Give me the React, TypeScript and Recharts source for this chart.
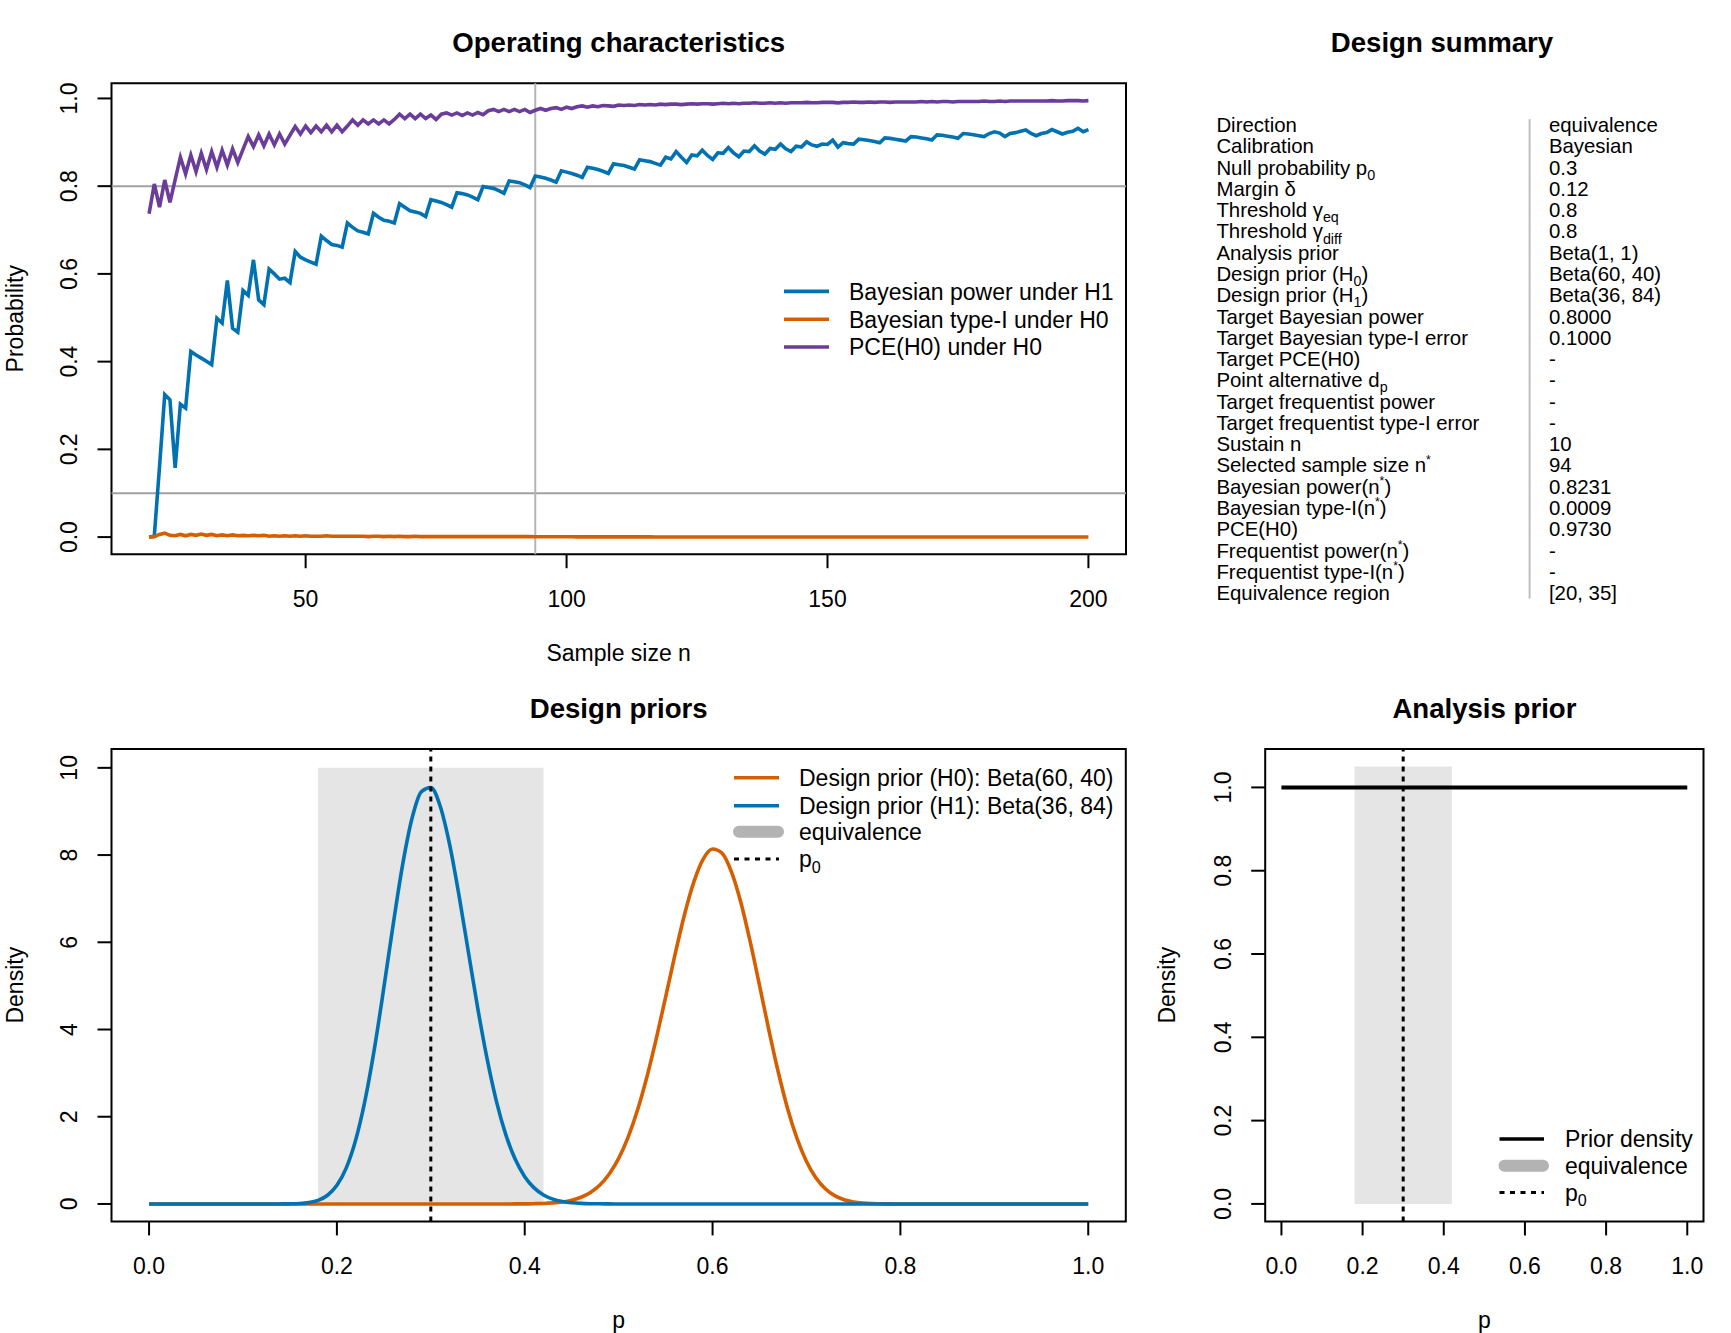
import React from "react";
import { LineChart, Line, XAxis, YAxis, ReferenceLine, ReferenceArea } from "recharts";

const FONT = "'Liberation Sans', Arial, Helvetica, sans-serif";
const BLUE = "#0072B2";
const ORANGE = "#D55E00";
const PURPLE = "#6A3D9A";
const REF_GREY = "#A0A0A0";
const SHADE = "#E5E5E5";
const BAND = "#B3B3B3";

// ---- Operating characteristics: sample sizes n = 20 .. 200 ----
const N_FIRST = 20;

const powerH1 = [
  0.000, 0.002, 0.160, 0.325, 0.313, 0.158, 0.303, 0.294, 0.423, 0.415,
  0.408, 0.401, 0.393, 0.499, 0.488, 0.585, 0.476, 0.467, 0.562, 0.551,
  0.632, 0.541, 0.530, 0.611, 0.600, 0.588, 0.590, 0.580, 0.651, 0.638,
  0.632, 0.627, 0.622, 0.686, 0.676, 0.667, 0.665, 0.661, 0.716, 0.706,
  0.698, 0.695, 0.691, 0.738, 0.729, 0.722, 0.720, 0.716, 0.760, 0.752,
  0.744, 0.741, 0.738, 0.731, 0.769, 0.766, 0.763, 0.758, 0.752, 0.785,
  0.783, 0.780, 0.775, 0.769, 0.799, 0.797, 0.795, 0.790, 0.784, 0.812,
  0.810, 0.808, 0.803, 0.797, 0.8231, 0.821, 0.818, 0.814, 0.809, 0.835,
  0.832, 0.829, 0.825, 0.820, 0.843, 0.841, 0.838, 0.834, 0.829, 0.851,
  0.849, 0.847, 0.843, 0.839, 0.860, 0.858, 0.856, 0.852, 0.848, 0.866,
  0.862, 0.879, 0.866, 0.854, 0.871, 0.869, 0.882, 0.870, 0.861, 0.876,
  0.875, 0.888, 0.876, 0.867, 0.880, 0.879, 0.892, 0.880, 0.873, 0.886,
  0.884, 0.896, 0.885, 0.879, 0.891, 0.889, 0.901, 0.894, 0.891, 0.896,
  0.895, 0.905, 0.889, 0.899, 0.897, 0.896, 0.907, 0.906, 0.904, 0.902,
  0.899, 0.910, 0.909, 0.907, 0.905, 0.903, 0.913, 0.912, 0.910, 0.908,
  0.905, 0.917, 0.916, 0.914, 0.912, 0.909, 0.920, 0.919, 0.917, 0.915,
  0.913, 0.920, 0.924, 0.921, 0.913, 0.920, 0.922, 0.925, 0.928, 0.920,
  0.915, 0.920, 0.922, 0.929, 0.924, 0.919, 0.923, 0.925, 0.932, 0.924,
  0.929,
];

const typeIH0 = [
  0.000, 0.001, 0.006, 0.009, 0.004, 0.003, 0.006, 0.003, 0.006, 0.004,
  0.007, 0.004, 0.006, 0.003, 0.005, 0.003, 0.005, 0.003, 0.004, 0.003,
  0.004, 0.003, 0.004, 0.002, 0.003, 0.002, 0.003, 0.002, 0.003, 0.002,
  0.003, 0.002, 0.002, 0.002, 0.003, 0.002, 0.002, 0.002, 0.002, 0.002,
  0.002, 0.002, 0.001, 0.002, 0.002, 0.001, 0.002, 0.001, 0.002, 0.001,
  0.001, 0.002, 0.001, 0.001, 0.001, 0.001, 0.001, 0.001, 0.001, 0.001,
  0.001, 0.001, 0.001, 0.001, 0.001, 0.001, 0.001, 0.001, 0.001, 0.001,
  0.001, 0.001, 0.001, 0.001, 0.0009, 0.0009, 0.0008, 0.0008, 0.0008, 0.0007,
  0.0007, 0.0007, 0.0006, 0.0006, 0.0006, 0.0006, 0.0005, 0.0005, 0.0005, 0.0005,
  0.0005, 0.0004, 0.0004, 0.0004, 0.0004, 0.0004, 0.0004, 0.0003, 0.0003, 0.0003,
  0.0003, 0.0003, 0.0003, 0.0003, 0.0003, 0.0003, 0.0003, 0.0003, 0.0003, 0.0003,
  0.0003, 0.0003, 0.0002, 0.0002, 0.0002, 0.0002, 0.0002, 0.0002, 0.0002, 0.0002,
  0.0002, 0.0002, 0.0002, 0.0002, 0.0002, 0.0002, 0.0002, 0.0002, 0.0002, 0.0002,
  0.0002, 0.0002, 0.0002, 0.0002, 0.0002, 0.0002, 0.0002, 0.0002, 0.0002, 0.0002,
  0.0001, 0.0001, 0.0001, 0.0001, 0.0001, 0.0001, 0.0001, 0.0001, 0.0001, 0.0001,
  0.0001, 0.0001, 0.0001, 0.0001, 0.0001, 0.0001, 0.0001, 0.0001, 0.0001, 0.0001,
  0.0001, 0.0001, 0.0001, 0.0001, 0.0001, 0.0001, 0.0001, 0.0001, 0.0001, 0.0001,
  0.0001, 0.0001, 0.0001, 0.0001, 0.0001, 0.0001, 0.0001, 0.0001, 0.0001, 0.0001,
  0.0001,
];

const pceH0 = [
  0.737, 0.805, 0.752, 0.814, 0.763, 0.815, 0.866, 0.828, 0.871, 0.833,
  0.875, 0.838, 0.879, 0.843, 0.882, 0.848, 0.885, 0.854, 0.884, 0.913,
  0.890, 0.917, 0.892, 0.919, 0.894, 0.919, 0.896, 0.916, 0.936, 0.919,
  0.937, 0.922, 0.937, 0.924, 0.939, 0.924, 0.939, 0.924, 0.937, 0.951,
  0.939, 0.951, 0.942, 0.951, 0.942, 0.951, 0.942, 0.952, 0.964, 0.954,
  0.964, 0.954, 0.964, 0.954, 0.962, 0.952, 0.964, 0.967, 0.962, 0.967,
  0.961, 0.967, 0.962, 0.968, 0.963, 0.972, 0.975, 0.970, 0.975, 0.970,
  0.975, 0.970, 0.975, 0.968, 0.973, 0.977, 0.973, 0.977, 0.979, 0.975,
  0.980, 0.977, 0.981, 0.983, 0.980, 0.983, 0.981, 0.984, 0.983, 0.982,
  0.985, 0.984, 0.985, 0.984, 0.986, 0.985, 0.986, 0.985, 0.987, 0.986,
  0.987, 0.987, 0.986, 0.987, 0.988, 0.987, 0.988, 0.988, 0.987, 0.988,
  0.989, 0.988, 0.989, 0.988, 0.989, 0.989, 0.990, 0.989, 0.989, 0.990,
  0.989, 0.990, 0.989, 0.990, 0.990, 0.990, 0.991, 0.990, 0.990, 0.991,
  0.991, 0.991, 0.990, 0.991, 0.991, 0.992, 0.991, 0.991, 0.992, 0.991,
  0.992, 0.992, 0.991, 0.992, 0.992, 0.992, 0.992, 0.992, 0.993, 0.992,
  0.993, 0.992, 0.993, 0.993, 0.992, 0.993, 0.993, 0.993, 0.993, 0.993,
  0.994, 0.993, 0.993, 0.994, 0.993, 0.994, 0.994, 0.994, 0.994, 0.994,
  0.994, 0.994, 0.994, 0.995, 0.994, 0.994, 0.995, 0.995, 0.995, 0.994,
  0.995,
];

const ocXTicks = [50, 100, 150, 200];
const ocYTicks = [0, 0.2, 0.4, 0.6, 0.8, 1];
const powerTarget = 0.8;
const typeITarget = 0.1;
const nSelected = 94;

const ocData = powerH1.map((v, i) => ({
  n: N_FIRST + i,
  power: v,
  typeI: typeIH0[i],
  pce: pceH0[i],
}));

// ---- Design prior densities ----
const densityGrid = [
  0, 0.05, 0.1,
  0.13, 0.14, 0.15, 0.16, 0.17, 0.18, 0.19, 0.2, 0.21, 0.22, 0.23, 0.24, 0.25,
  0.26, 0.27, 0.28, 0.29, 0.3, 0.31, 0.32, 0.33, 0.34, 0.35, 0.36, 0.37, 0.38,
  0.39, 0.4, 0.41, 0.42, 0.43, 0.44, 0.45, 0.46, 0.47, 0.48, 0.49, 0.5, 0.51,
  0.52, 0.53, 0.54, 0.55, 0.56, 0.57, 0.58, 0.59, 0.6, 0.61, 0.62, 0.63, 0.64,
  0.65, 0.66, 0.67, 0.68, 0.69, 0.7, 0.71, 0.72, 0.73, 0.74, 0.75, 0.76, 0.77,
  0.78, 0.79, 0.8,
  0.85, 0.9, 0.95, 1,
];

const densityH1 = [
  0, 0, 0,
  0.0001, 0.0007, 0.0028, 0.0099, 0.031, 0.083, 0.199, 0.427, 0.828, 1.466, 2.381, 3.567, 4.961,
  6.421, 7.781, 8.843, 9.456, 9.55, 9.12, 8.245, 7.076, 5.776, 4.485, 3.319, 2.342, 1.579,
  1.017, 0.625, 0.368, 0.207, 0.111, 0.057, 0.028, 0.013, 0.006, 0.003, 0.001, 0, 0,
  0, 0, 0, 0, 0, 0, 0, 0, 0, 0, 0, 0, 0,
  0, 0, 0, 0, 0, 0, 0, 0, 0, 0, 0, 0, 0,
  0, 0, 0,
  0, 0, 0, 0,
];

const densityH0 = [
  0, 0, 0,
  0, 0, 0, 0, 0, 0, 0, 0, 0, 0, 0, 0, 0,
  0, 0, 0, 0, 0, 0, 0, 0, 0, 0, 0, 0, 0,
  0.001, 0.002, 0.006, 0.012, 0.024, 0.046, 0.086, 0.153, 0.263, 0.433, 0.686, 1.044, 1.526,
  2.147, 2.907, 3.785, 4.744, 5.715, 6.626, 7.381, 7.909, 8.139, 8.044, 7.622, 6.924, 6.019,
  5.013, 3.983, 3.02, 2.179, 1.496, 0.973, 0.599, 0.348, 0.19, 0.097, 0.047, 0.021, 0.009,
  0.003, 0.001, 0,
  0, 0, 0, 0,
];

const priorData = densityGrid.map((p, i) => ({ p, h0: densityH0[i], h1: densityH1[i] }));

// ---- Analysis prior Beta(1, 1) ----
const analysisGrid = [0, 0.25, 0.5, 0.75, 1];
const analysisDensity = [1, 1, 1, 1, 1];
const analysisData = analysisGrid.map((p, i) => ({ p, d: analysisDensity[i] }));

const p0 = 0.3;
const equivLow = 0.18;
const equivHigh = 0.42;
const pTicks = [0, 0.2, 0.4, 0.6, 0.8, 1];
const densityTicks = [0, 2, 4, 6, 8, 10];
const flatTicks = [0, 0.2, 0.4, 0.6, 0.8, 1];

// ---- Design summary table ----
type Part = { t: string; s?: "sub" | "sup" };
const summaryLabels: Part[][] = [
  [{ t: "Direction" }],
  [{ t: "Calibration" }],
  [{ t: "Null probability p" }, { t: "0", s: "sub" }],
  [{ t: "Margin δ" }],
  [{ t: "Threshold γ" }, { t: "eq", s: "sub" }],
  [{ t: "Threshold γ" }, { t: "diff", s: "sub" }],
  [{ t: "Analysis prior" }],
  [{ t: "Design prior (H" }, { t: "0", s: "sub" }, { t: ")" }],
  [{ t: "Design prior (H" }, { t: "1", s: "sub" }, { t: ")" }],
  [{ t: "Target Bayesian power" }],
  [{ t: "Target Bayesian type-I error" }],
  [{ t: "Target PCE(H0)" }],
  [{ t: "Point alternative d" }, { t: "p", s: "sub" }],
  [{ t: "Target frequentist power" }],
  [{ t: "Target frequentist type-I error" }],
  [{ t: "Sustain n" }],
  [{ t: "Selected sample size n" }, { t: "*", s: "sup" }],
  [{ t: "Bayesian power(n" }, { t: "*", s: "sup" }, { t: ")" }],
  [{ t: "Bayesian type-I(n" }, { t: "*", s: "sup" }, { t: ")" }],
  [{ t: "PCE(H0)" }],
  [{ t: "Frequentist power(n" }, { t: "*", s: "sup" }, { t: ")" }],
  [{ t: "Frequentist type-I(n" }, { t: "*", s: "sup" }, { t: ")" }],
  [{ t: "Equivalence region" }],
];
const summaryValues = [
  "equivalence", "Bayesian", "0.3", "0.12", "0.8", "0.8", "Beta(1, 1)",
  "Beta(60, 40)", "Beta(36, 84)", "0.8000", "0.1000", "-", "-", "-", "-",
  "10", "94", "0.8231", "0.0009", "0.9730", "-", "-", "[20, 35]",
];

const fmt1 = (v: number) => v.toFixed(1);
const fmt0 = (v: number) => String(v);

function XTick(props: any) {
  const { x, y, payload, fmt } = props;
  return (
    <text x={x} y={y + 38.4} textAnchor="middle" fontFamily={FONT} fontSize={23} fill="#000">
      {fmt(payload.value)}
    </text>
  );
}

function YTick(props: any) {
  const { x, y, payload, fmt } = props;
  const bx = x - 20.1;
  return (
    <text
      x={bx}
      y={y}
      transform={`rotate(-90 ${bx} ${y})`}
      textAnchor="middle"
      fontFamily={FONT}
      fontSize={23}
      fill="#000"
    >
      {fmt(payload.value)}
    </text>
  );
}

const tickLine = { stroke: "#000", strokeWidth: 2 };

function OperatingChart() {
  const xd: [number, number] = [12.8, 207.2];
  const yd: [number, number] = [-0.039, 1.0345];
  return (
    <LineChart
      width={1160}
      height={680}
      data={ocData}
      margin={{ top: 83.3, right: 34, bottom: 85.8, left: 61.5 }}
    >
      <XAxis
        type="number"
        dataKey="n"
        domain={xd}
        ticks={ocXTicks}
        allowDataOverflow
        interval={0}
        height={40}
        tickSize={14}
        tickMargin={0}
        axisLine={false}
        tickLine={tickLine}
        tick={<XTick fmt={fmt0} />}
      />
      <YAxis
        type="number"
        domain={yd}
        ticks={ocYTicks}
        allowDataOverflow
        interval={0}
        width={50}
        tickSize={14}
        tickMargin={0}
        axisLine={false}
        tickLine={tickLine}
        tick={<YTick fmt={fmt1} />}
      />
      <ReferenceLine y={powerTarget} stroke={REF_GREY} strokeWidth={2} />
      <ReferenceLine y={typeITarget} stroke={REF_GREY} strokeWidth={2} />
      <ReferenceLine x={nSelected} stroke="#B5B5B5" strokeWidth={2} />
      <Line type="linear" dataKey="power" stroke={BLUE} strokeWidth={3.6} dot={false} isAnimationActive={false} />
      <Line type="linear" dataKey="typeI" stroke={ORANGE} strokeWidth={3.6} dot={false} isAnimationActive={false} />
      <Line type="linear" dataKey="pce" stroke={PURPLE} strokeWidth={3.6} dot={false} isAnimationActive={false} />
      <ReferenceArea
        x1={xd[0]}
        x2={xd[1]}
        y1={yd[0]}
        y2={yd[1]}
        fill="none"
        fillOpacity={0}
        stroke="#000"
        strokeWidth={2}
        ifOverflow="visible"
      />
    </LineChart>
  );
}

function DesignPriorChart() {
  const xd: [number, number] = [-0.04, 1.04];
  const yd: [number, number] = [-0.4, 10.43];
  return (
    <LineChart
      width={1160}
      height={653}
      data={priorData}
      margin={{ top: 69.1, right: 34.2, bottom: 71.6, left: 61.5 }}
    >
      <XAxis
        type="number"
        dataKey="p"
        domain={xd}
        ticks={pTicks}
        allowDataOverflow
        interval={0}
        height={40}
        tickSize={14}
        tickMargin={0}
        axisLine={false}
        tickLine={tickLine}
        tick={<XTick fmt={fmt1} />}
      />
      <YAxis
        type="number"
        domain={yd}
        ticks={densityTicks}
        allowDataOverflow
        interval={0}
        width={50}
        tickSize={14}
        tickMargin={0}
        axisLine={false}
        tickLine={tickLine}
        tick={<YTick fmt={fmt0} />}
      />
      <ReferenceArea x1={equivLow} x2={equivHigh} y1={0} y2={10} fill={SHADE} fillOpacity={1} stroke="none" />
      <Line type="monotone" dataKey="h0" stroke={ORANGE} strokeWidth={3.6} dot={false} isAnimationActive={false} />
      <Line type="monotone" dataKey="h1" stroke={BLUE} strokeWidth={3.6} dot={false} isAnimationActive={false} />
      <ReferenceLine x={p0} stroke="#000" strokeWidth={3} strokeDasharray="5 5" />
      <ReferenceArea
        x1={xd[0]}
        x2={xd[1]}
        y1={yd[0]}
        y2={yd[1]}
        fill="none"
        fillOpacity={0}
        stroke="#000"
        strokeWidth={2}
        ifOverflow="visible"
      />
    </LineChart>
  );
}

function AnalysisPriorChart() {
  const xd: [number, number] = [-0.04, 1.04];
  const yd: [number, number] = [-0.042, 1.092];
  return (
    <LineChart
      width={571}
      height={653}
      data={analysisData}
      margin={{ top: 69.1, right: 27.5, bottom: 71.6, left: 55.2 }}
    >
      <XAxis
        type="number"
        dataKey="p"
        domain={xd}
        ticks={pTicks}
        allowDataOverflow
        interval={0}
        height={40}
        tickSize={14}
        tickMargin={0}
        axisLine={false}
        tickLine={tickLine}
        tick={<XTick fmt={fmt1} />}
      />
      <YAxis
        type="number"
        domain={yd}
        ticks={flatTicks}
        allowDataOverflow
        interval={0}
        width={50}
        tickSize={14}
        tickMargin={0}
        axisLine={false}
        tickLine={tickLine}
        tick={<YTick fmt={fmt1} />}
      />
      <ReferenceArea x1={equivLow} x2={equivHigh} y1={0} y2={1.05} fill={SHADE} fillOpacity={1} stroke="none" />
      <Line type="linear" dataKey="d" stroke="#000" strokeWidth={4} dot={false} isAnimationActive={false} />
      <ReferenceLine x={p0} stroke="#000" strokeWidth={3} strokeDasharray="5 5" />
      <ReferenceArea
        x1={xd[0]}
        x2={xd[1]}
        y1={yd[0]}
        y2={yd[1]}
        fill="none"
        fillOpacity={0}
        stroke="#000"
        strokeWidth={2}
        ifOverflow="visible"
      />
    </LineChart>
  );
}

type Key = { kind: "line" | "band" | "dash"; color: string; label: Part[] };

function RichText({ x, y, parts, size }: { x: number; y: number; parts: Part[]; size: number }) {
  const subShift = size * 0.25;
  const supShift = size * 0.42;
  let prev: Part["s"] | undefined = undefined;
  return (
    <text x={x} y={y} fontFamily={FONT} fontSize={size} fill="#000">
      {parts.map((pt, i) => {
        let dy = 0;
        if (pt.s === "sub") dy = subShift;
        else if (pt.s === "sup") dy = -supShift;
        if (prev === "sub") dy -= subShift;
        else if (prev === "sup") dy += supShift;
        prev = pt.s;
        const fs = pt.s === "sup" ? size * 0.6 : pt.s ? size * 0.7 : size;
        return (
          <tspan key={i} dy={dy} fontSize={fs}>
            {pt.t}
          </tspan>
        );
      })}
    </text>
  );
}

function LegendBlock({ x1, x2, tx, ys, items }: { x1: number; x2: number; tx: number; ys: number[]; items: Key[] }) {
  return (
    <g>
      {items.map((it, i) => {
        const y = ys[i];
        let mark;
        if (it.kind === "band") {
          mark = <line x1={x1 + 5} x2={x2 - 1} y1={y} y2={y} stroke={it.color} strokeWidth={12} strokeLinecap="round" />;
        } else if (it.kind === "dash") {
          mark = <line x1={x1} x2={x2} y1={y} y2={y} stroke={it.color} strokeWidth={3} strokeDasharray="5 5.5" />;
        } else {
          mark = <line x1={x1} x2={x2} y1={y} y2={y} stroke={it.color} strokeWidth={3.6} />;
        }
        return (
          <g key={i}>
            {mark}
            <RichText x={tx} y={y + 8.2} parts={it.label} size={23} />
          </g>
        );
      })}
    </g>
  );
}

const ocLegend: Key[] = [
  { kind: "line", color: BLUE, label: [{ t: "Bayesian power under H1" }] },
  { kind: "line", color: ORANGE, label: [{ t: "Bayesian type-I under H0" }] },
  { kind: "line", color: PURPLE, label: [{ t: "PCE(H0) under H0" }] },
];
const priorLegend: Key[] = [
  { kind: "line", color: ORANGE, label: [{ t: "Design prior (H0): Beta(60, 40)" }] },
  { kind: "line", color: BLUE, label: [{ t: "Design prior (H1): Beta(36, 84)" }] },
  { kind: "band", color: BAND, label: [{ t: "equivalence" }] },
  { kind: "dash", color: "#000", label: [{ t: "p" }, { t: "0", s: "sub" }] },
];
const analysisLegend: Key[] = [
  { kind: "line", color: "#000", label: [{ t: "Prior density" }] },
  { kind: "band", color: BAND, label: [{ t: "equivalence" }] },
  { kind: "dash", color: "#000", label: [{ t: "p" }, { t: "0", s: "sub" }] },
];

function Title({ x, y, text }: { x: number; y: number; text: string }) {
  return (
    <text x={x} y={y} textAnchor="middle" fontFamily={FONT} fontSize={27.6} fontWeight="bold" fill="#000">
      {text}
    </text>
  );
}

function AxisTitle({ x, y, text, vertical }: { x: number; y: number; text: string; vertical?: boolean }) {
  return (
    <text
      x={x}
      y={y}
      transform={vertical ? `rotate(-90 ${x} ${y})` : undefined}
      textAnchor="middle"
      fontFamily={FONT}
      fontSize={23}
      fill="#000"
    >
      {text}
    </text>
  );
}

function Overlay() {
  const rowTop = 132.1;
  const rowStep = 21.27;
  return (
    <svg
      width={1731}
      height={1333}
      style={{ position: "absolute", left: 0, top: 0, pointerEvents: "none" }}
    >
      <Title x={618.7} y={52} text="Operating characteristics" />
      <Title x={1442} y={52} text="Design summary" />
      <Title x={618.7} y={718} text="Design priors" />
      <Title x={1484.4} y={718} text="Analysis prior" />

      <AxisTitle x={618.7} y={660.8} text="Sample size n" />
      <AxisTitle x={23} y={318.7} text="Probability" vertical />
      <AxisTitle x={618.7} y={1328} text="p" />
      <AxisTitle x={23} y={985.2} text="Density" vertical />
      <AxisTitle x={1484.4} y={1328} text="p" />
      <AxisTitle x={1175} y={985.2} text="Density" vertical />

      <LegendBlock x1={784} x2={829} tx={849} ys={[291.4, 319.3, 347]} items={ocLegend} />
      <LegendBlock x1={734} x2={779} tx={799} ys={[777.7, 805.7, 831.7, 859]} items={priorLegend} />
      <LegendBlock x1={1499.5} x2={1544} tx={1565} ys={[1139, 1165.7, 1192.5]} items={analysisLegend} />

      <line x1={1529.6} x2={1529.6} y1={119.3} y2={598.4} stroke="#BEBEBE" strokeWidth={2} />
      {summaryLabels.map((parts, i) => (
        <g key={i}>
          <RichText x={1216.4} y={rowTop + i * rowStep} parts={parts} size={20.4} />
          <text x={1548.9} y={rowTop + i * rowStep} fontFamily={FONT} fontSize={20.4} fill="#000">
            {summaryValues[i]}
          </text>
        </g>
      ))}
    </svg>
  );
}

export default function App() {
  return (
    <div
      style={{
        position: "absolute",
        left: 0,
        top: 0,
        width: 1731,
        height: 1333,
        background: "#fff",
        overflow: "hidden",
      }}
    >
      <div style={{ position: "absolute", left: 0, top: 0 }}>
        <OperatingChart />
      </div>
      <div style={{ position: "absolute", left: 0, top: 680 }}>
        <DesignPriorChart />
      </div>
      <div style={{ position: "absolute", left: 1160, top: 680 }}>
        <AnalysisPriorChart />
      </div>
      <Overlay />
    </div>
  );
}
